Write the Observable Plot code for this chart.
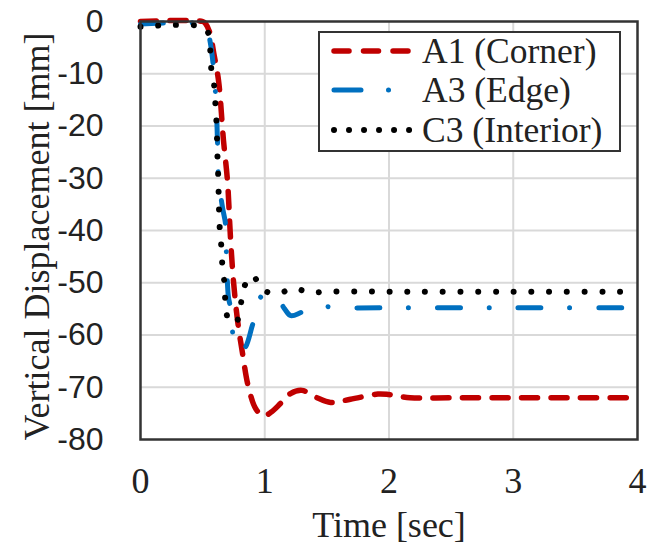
<!DOCTYPE html>
<html>
<head>
<meta charset="utf-8">
<script src="https://cdn.jsdelivr.net/npm/d3@7"></script>
<script src="https://cdn.jsdelivr.net/npm/@observablehq/plot@0.6"></script>
<style>
  html, body { margin: 0; padding: 0; background: #fff; }
  #wrap { position: relative; width: 651px; height: 548px; }
  #legend { position: absolute; left: 318px; top: 31px; width: 299px; height: 117px;
            border: 2px solid #333; background: #fff; }
  #legend svg { overflow: visible; display: block; }
</style>
</head>
<body>
<div id="wrap"></div>
<script>
// ---- data ----
const seriesNames = ["A1 (Corner)", "A3 (Edge)", "C3 (Interior)"];
const seriesColors = ["#C00000", "#0070C0", "#000000"];

const timeA1 = [0, 0.5, 0.523, 0.56, 0.59, 0.628, 0.668, 0.70, 0.724, 0.748, 0.781, 0.821, 0.869, 0.93, 0.99, 1.05, 1.127, 1.207, 1.30, 1.42, 1.53, 1.69, 1.91, 2.0, 2.17, 2.5, 3, 3.5, 4];
const valA1  = [0, 0, -0.4, -2.3, -6.1, -11.3, -22.8, -30.5, -41.3, -49.6, -57.2, -63.5, -70.0, -74.2, -75.5, -74.8, -73.1, -71.2, -70.6, -72, -72.9, -72.3, -71.3, -71.4, -72, -72, -72, -72, -72];

const timeA3 = [0, 0.5, 0.53, 0.563, 0.604, 0.620, 0.628, 0.66, 0.684, 0.692, 0.708, 0.724, 0.748, 0.78, 0.81, 0.845, 0.90, 0.966, 1.0, 1.06, 1.111, 1.16, 1.21, 1.3, 1.42, 1.6, 2, 3, 4];
const valA3  = [-0.5, -0.5, -1.2, -4.2, -13.8, -23.3, -29.9, -35.6, -38.7, -45.2, -52.8, -54.7, -60.5, -62.8, -63, -62.3, -58.2, -52.8, -52.1, -52.4, -53.2, -55, -56.3, -55.6, -54.5, -54.8, -54.8, -54.8, -54.8];

const timeC3 = [0, 0.5, 0.547, 0.563, 0.571, 0.596, 0.604, 0.612, 0.620, 0.626, 0.630, 0.634, 0.640, 0.652, 0.660, 0.676, 0.684, 0.708, 0.765, 0.805, 0.829, 0.901, 0.982, 1.10, 1.23, 1.37, 1.5, 2, 3, 4];
const valC3  = [-1, -1, -2.3, -6.1, -9.4, -12.8, -16.5, -19.5, -26.2, -30, -34, -37.5, -40.5, -43.4, -47.1, -50.1, -53.8, -57, -57.8, -54.5, -51.1, -48.6, -51.3, -52.1, -51.1, -51.9, -51.7, -51.7, -51.7, -51.7];

const xTicks = [0, 1, 2, 3, 4];
const yTicks = [0, -10, -20, -30, -40, -50, -60, -70, -80];

const seriesTimes = [timeA1, timeA3, timeC3];
const seriesVals = [valA1, valA3, valC3];
const seriesStyles = [
  {strokeWidth: 5.5, dash: "16,13.5"},
  {strokeWidth: 5, dash: "23,28.5,0.01,29"},
  {strokeWidth: 6, dash: "0.01,17.7"}
];

const rows = [];
seriesNames.forEach((name, i) => {
  seriesTimes[i].forEach((t, j) => rows.push({series: name, t, v: seriesVals[i][j]}));
});

const serif = "'Liberation Serif', 'Times New Roman', serif";
const sans = "'Liberation Sans', Arial, sans-serif";

const lineMarks = seriesNames.map((name, i) =>
  Plot.line(rows.filter(d => d.series === name), {
    x: "t", y: "v", stroke: seriesColors[i], strokeWidth: seriesStyles[i].strokeWidth,
    strokeDasharray: seriesStyles[i].dash, strokeLinecap: "round", strokeLinejoin: "round",
    curve: "catmull-rom"
  })
);

const chart = Plot.plot({
  width: 651, height: 548,
  marginLeft: 140, marginRight: 14, marginTop: 21, marginBottom: 109,
  style: {background: "#fff", color: "#222"},
  x: {domain: [0, 4]},
  y: {domain: [-80, 0]},
  marks: [
    Plot.gridX(xTicks.slice(1, -1), {stroke: "#d9d9d9", strokeWidth: 2, strokeOpacity: 1}),
    Plot.gridY(yTicks.slice(1, -1), {stroke: "#d9d9d9", strokeWidth: 2, strokeOpacity: 1}),
    ...lineMarks,
    Plot.frame({stroke: "#333", strokeWidth: 2.5}),
    Plot.axisX(xTicks, {tickSize: 0, tickPadding: 28, fontSize: 36, fontFamily: serif, label: null, tickFormat: d => String(d)}),
    Plot.axisY(yTicks, {tickSize: 0, tickPadding: 37, fontSize: 32, fontFamily: sans, label: null, tickFormat: d => String(d)}),
    Plot.text(["Time [sec]"], {text: d => d, frameAnchor: "bottom", textAnchor: "middle", dy: 86, fontSize: 36, fontFamily: serif, lineAnchor: "middle"}),
    Plot.text(["Vertical Displacement [mm]"], {text: d => d, frameAnchor: "left", textAnchor: "middle", rotate: -90, dx: -103, dy: 6, fontSize: 36, fontFamily: serif, lineAnchor: "middle"})
  ]
});

const wrap = document.getElementById("wrap");
wrap.appendChild(chart);

// legend
const legend = document.createElement("div");
legend.id = "legend";
const ns = "http://www.w3.org/2000/svg";
const lsvg = document.createElementNS(ns, "svg");
lsvg.setAttribute("width", 299);
lsvg.setAttribute("height", 117);
const rowY = [18, 57, 97];
const legendDash = ["15,14.5", "27,27.5,0.01,30", "0.01,15"];
seriesNames.forEach((name, i) => {
  const ln = document.createElementNS(ns, "line");
  ln.setAttribute("x1", 14); ln.setAttribute("x2", 92);
  ln.setAttribute("y1", rowY[i]); ln.setAttribute("y2", rowY[i]);
  ln.setAttribute("stroke", seriesColors[i]);
  ln.setAttribute("stroke-width", seriesStyles[i].strokeWidth);
  ln.setAttribute("stroke-linecap", "round");
  ln.setAttribute("stroke-dasharray", legendDash[i]);
  lsvg.appendChild(ln);
  const tx = document.createElementNS(ns, "text");
  tx.setAttribute("x", 102); tx.setAttribute("y", rowY[i]);
  tx.setAttribute("dy", "0.35em");
  tx.setAttribute("font-family", serif);
  tx.setAttribute("font-size", 35.5);
  tx.setAttribute("fill", "#222");
  tx.textContent = name;
  lsvg.appendChild(tx);
});
legend.appendChild(lsvg);
wrap.appendChild(legend);
</script>
</body>
</html>
